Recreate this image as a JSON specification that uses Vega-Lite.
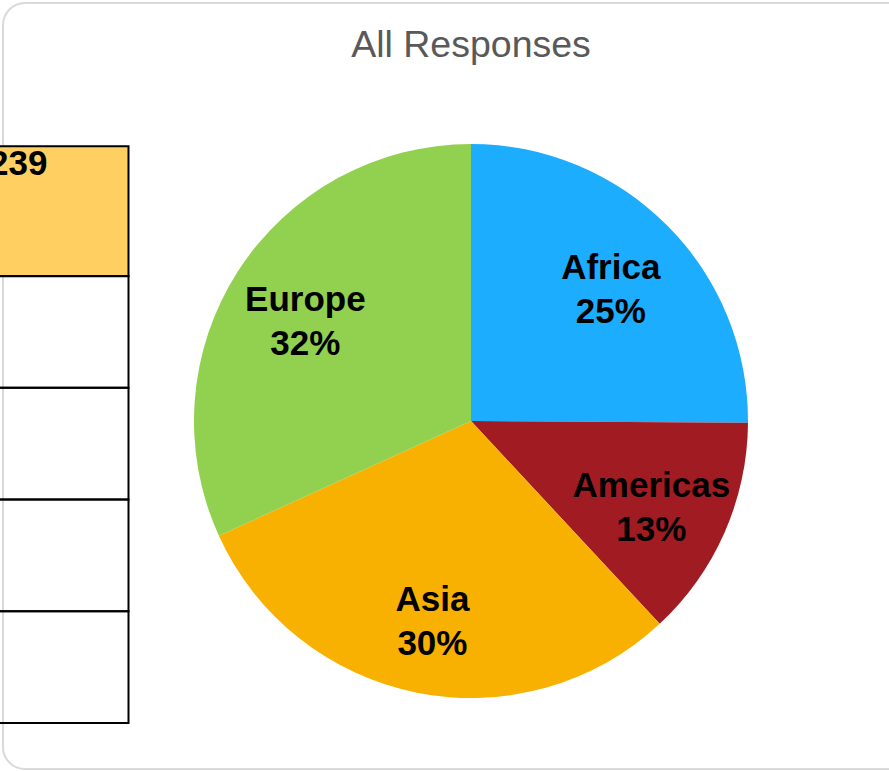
{
  "$schema": "https://vega.github.io/schema/vega-lite/v6.json",
  "width": 936,
  "height": 766,
  "autosize": {"type": "none"},
  "padding": {"left": 3, "top": 3, "right": -50, "bottom": 2},
  "background": "white",
  "config": {
    "view": {"stroke": "#d9d9d9", "strokeWidth": 2, "cornerRadius": 22},
    "font": "Liberation Sans"
  },
  "title": {
    "text": "All Responses",
    "anchor": "middle",
    "fontSize": 37.5,
    "fontWeight": "normal",
    "color": "#595959",
    "font": "Liberation Sans",
    "baseline": "alphabetic",
    "offset": -91
  },
  "datasets": {
    "responses": [
      {"row": "All", "column": "N", "n": 239, "share": 1},
      {"row": "Africa", "column": "N", "n": 60, "share": 0.251},
      {"row": "Americas", "column": "N", "n": 31, "share": 0.130},
      {"row": "Asia", "column": "N", "n": 72, "share": 0.301},
      {"row": "Europe", "column": "N", "n": 76, "share": 0.318}
    ]
  },
  "data": {"name": "responses"},
  "layer": [
    {
      "transform": [{"filter": {"not": {"field": "row", "equal": "All"}}}],
      "mark": {"type": "arc", "radius": 277, "yOffset": 35},
      "encoding": {
        "theta": {"field": "n", "type": "quantitative", "stack": true},
        "order": {"field": "row", "type": "ordinal"},
        "color": {
          "field": "row",
          "type": "nominal",
          "scale": {
            "domain": ["Africa", "Americas", "Asia", "Europe"],
            "range": ["#1cadfe", "#a11c22", "#f8b100", "#92d050"]
          },
          "legend": null
        }
      }
    },
    {
      "transform": [{"filter": {"not": {"field": "row", "equal": "All"}}}],
      "mark": {"type": "text", "radius": 197, "yOffset": 43, "dy": -22, "fontSize": 35, "fontWeight": "bold", "color": "#000000", "baseline": "middle", "font": "Liberation Sans"},
      "encoding": {
        "theta": {"field": "n", "type": "quantitative", "stack": true},
        "order": {"field": "row", "type": "ordinal"},
        "detail": {"field": "row", "type": "nominal"},
        "text": {"field": "row", "type": "nominal"}
      }
    },
    {
      "transform": [{"filter": {"not": {"field": "row", "equal": "All"}}}],
      "mark": {"type": "text", "radius": 197, "yOffset": 43, "dy": 22, "fontSize": 35, "fontWeight": "bold", "color": "#000000", "baseline": "middle", "font": "Liberation Sans"},
      "encoding": {
        "theta": {"field": "n", "type": "quantitative", "stack": true},
        "order": {"field": "row", "type": "ordinal"},
        "detail": {"field": "row", "type": "nominal"},
        "text": {"field": "share", "type": "quantitative", "format": ".0%"}
      }
    },
    {
      "transform": [{"filter": {"field": "row", "equal": "All"}}],
      "mark": {"type": "rect", "fill": "#ffd061", "stroke": "#000000", "strokeWidth": 2, "height": 130, "yOffset": -9},
      "encoding": {
        "x": {"field": "column", "type": "nominal", "scale": {"range": [-12, 125.5], "paddingInner": 0, "paddingOuter": 0}, "axis": null},
        "y": {
          "field": "row",
          "type": "nominal",
          "scale": {"domain": ["All", "Africa", "Americas", "Asia", "Europe"], "range": [161.25, 720], "paddingInner": 0, "paddingOuter": 0},
          "axis": null
        }
      }
    },
    {
      "transform": [{"filter": {"not": {"field": "row", "equal": "All"}}}],
      "mark": {"type": "rect", "fill": "#ffffff", "fillOpacity": 0, "stroke": "#000000", "strokeWidth": 2},
      "encoding": {
        "x": {"field": "column", "type": "nominal", "axis": null},
        "y": {"field": "row", "type": "nominal", "axis": null}
      }
    },
    {
      "transform": [{"filter": {"field": "row", "equal": "All"}}],
      "mark": {"type": "text", "align": "left", "baseline": "alphabetic", "dx": -2, "dy": 11, "fontSize": 35, "fontWeight": "bold", "color": "#000000", "font": "Liberation Sans"},
      "encoding": {
        "x": {"field": "column", "type": "nominal", "bandPosition": 0, "axis": null},
        "y": {"field": "row", "type": "nominal", "bandPosition": 0, "axis": null},
        "text": {"field": "n", "type": "quantitative"}
      }
    }
  ]
}
